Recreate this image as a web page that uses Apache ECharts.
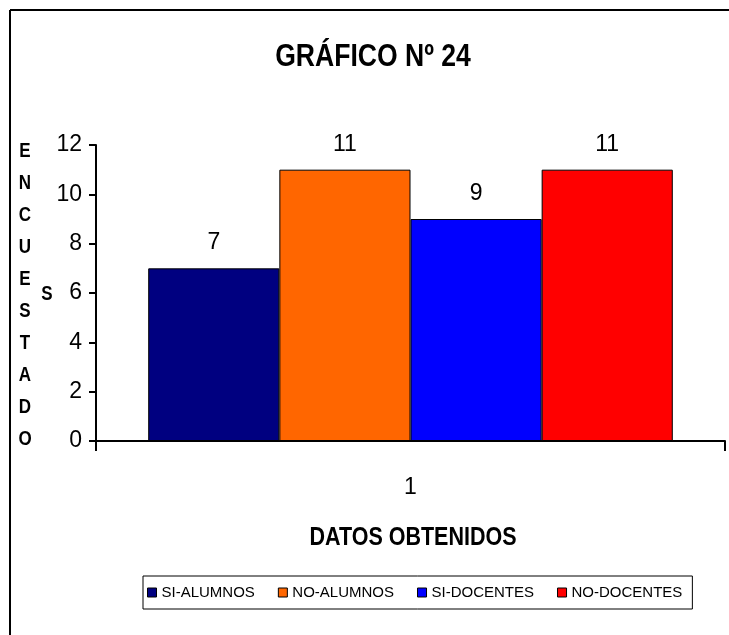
<!DOCTYPE html>
<html>
<head>
<meta charset="utf-8">
<script src="https://cdn.jsdelivr.net/npm/echarts@6/dist/echarts.min.js"></script>
<style>
html,body{margin:0;padding:0;background:#fff;}
#c{width:729px;height:635px;}
</style>
</head>
<body>
<div id="c"></div>
<script>
const categories = ['1'];
const seriesNames = ['SI-ALUMNOS', 'NO-ALUMNOS', 'SI-DOCENTES', 'NO-DOCENTES'];
const seriesValues = [[7], [11], [9], [11]];
const seriesColors = ['#000080', '#FF6600', '#0000FF', '#FF0000'];
const yTicks = [0, 2, 4, 6, 8, 10, 12];
const titleText = 'GRÁFICO Nº 24';
const xAxisTitle = 'DATOS OBTENIDOS';
const yAxisLetters = ['E','N','C','U','E','S','T','A','D','O'];

const FONT = "'Liberation Sans Narrow', 'Arial Narrow', 'Liberation Sans', Arial, sans-serif";
const chart = echarts.init(document.getElementById('c'), null, {renderer: 'canvas'});

const graphics = [
  {type: 'line', shape: {x1: 10, y1: 10, x2: 729, y2: 10}, style: {stroke: '#000', lineWidth: 2}},
  {type: 'line', shape: {x1: 10, y1: 10, x2: 10, y2: 635}, style: {stroke: '#000', lineWidth: 2}},
  {type: 'text', x: 373, y: 57, scaleX: 0.83, scaleY: 1,
    style: {text: titleText, font: "bold 32px " + FONT, fill: '#000', align: 'center', verticalAlign: 'middle'}},
  {type: 'text', x: 413, y: 538, scaleX: 0.86,
    style: {text: xAxisTitle, font: "bold 25px " + FONT, fill: '#000', align: 'center', verticalAlign: 'middle'}},
  {type: 'text', x: 47, y: 294, scaleX: 0.85,
    style: {text: 'S', font: "bold 20px " + FONT, fill: '#000', align: 'center', verticalAlign: 'middle'}}
];
yAxisLetters.forEach((ch, i) => {
  const y = 151 + i * 32;
  graphics.push({type: 'text', x: 25, y: y, scaleX: 0.85,
    style: {text: ch, font: "bold 20px " + FONT, fill: '#000', align: 'center', verticalAlign: 'middle'}});
});

chart.setOption({
  animation: false,
  backgroundColor: '#fff',
  graphic: graphics,
  legend: {
    left: 143, top: 576,
    data: seriesNames,
    itemWidth: 9, itemHeight: 9, itemGap: 23,
    icon: 'rect',
    padding: [9, 10, 9, 4],
    borderColor: '#000', borderWidth: 1,
    textStyle: {fontFamily: FONT, fontSize: 15, color: '#000'},
    itemStyle: {borderColor: '#000', borderWidth: 1}
  },
  grid: {left: 96, right: 4, top: 145, bottom: 194, containLabel: false},
  xAxis: {
    type: 'category', data: categories,
    axisLine: {lineStyle: {color: '#000', width: 2}},
    axisTick: {show: true, length: 10, lineStyle: {color: '#000', width: 2}, alignWithLabel: false},
    axisLabel: {fontFamily: FONT, fontSize: 23, color: '#000', margin: 35},
    splitLine: {show: false}
  },
  yAxis: {
    type: 'value', min: 0, max: 12, interval: 2,
    axisLine: {show: true, lineStyle: {color: '#000', width: 2}},
    axisTick: {show: true, length: 7, lineStyle: {color: '#000', width: 2}},
    axisLabel: {fontFamily: FONT, fontSize: 23, color: '#000', margin: 14,
      formatter: v => yTicks.includes(v) ? String(v) : ''},
    splitLine: {show: false}
  },
  series: seriesNames.map((name, i) => ({
    name: name, type: 'bar', data: seriesValues[i],
    barGap: '0%', barCategoryGap: '16.6%',
    itemStyle: {color: seriesColors[i], borderColor: '#000', borderWidth: 1},
    label: {show: true, position: 'top', distance: 14, fontFamily: FONT, fontSize: 23, color: '#000'}
  }))
});
</script>
</body>
</html>
